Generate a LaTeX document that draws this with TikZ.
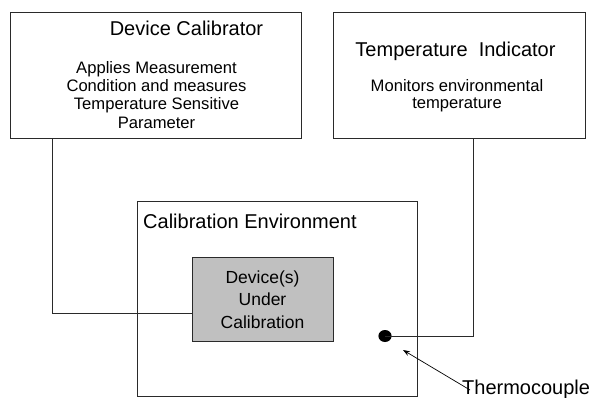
\documentclass[tikz,border=0pt]{standalone}
\usepackage{fontspec}
\setmainfont{Liberation Sans}
\usetikzlibrary{arrows.meta}
\definecolor{lineclr}{HTML}{2A2A2A}
\definecolor{ducgray}{HTML}{C0C0C0}
\tikzset{
  boxstyle/.style={draw=lineclr, line width=0.9pt},
  wire/.style={draw=lineclr, line width=0.9pt},
  titletext/.style={anchor=base, inner sep=0pt, font=\fontsize{20}{22}\selectfont},
  bodytext/.style={anchor=base, inner sep=0pt, font=\fontsize{16.6}{18}\selectfont},
  ductext/.style={anchor=base, inner sep=0pt, font=\fontsize{17.5}{20}\selectfont},
}
\begin{document}
\begin{tikzpicture}[x=1pt, y=-1pt]
\useasboundingbox (0,0) rectangle (603,397);
% boxes
\draw[boxstyle] (10,12) rectangle (301,138);
\draw[boxstyle] (333,12) rectangle (585,138);
\draw[boxstyle] (137,201) rectangle (417,396);
\node[boxstyle, fill=ducgray, minimum width=141pt, minimum height=84pt, inner sep=0pt] (duc) at (262.5,299) {};
% Device calibrator text
\node[titletext] (calT) at (186.5,35.5) {Device Calibrator};
\node[bodytext] (calB1) at (156.5,73) {Applies Measurement};
\node[bodytext] (calB2) at (156.5,91.3) {Condition and measures};
\node[bodytext] (calB3) at (156.5,109.6) {Temperature Sensitive};
\node[bodytext] (calB4) at (156.5,128) {Parameter};
% Temperature indicator text
\node[titletext] (tiT) at (455.5,56) {Temperature\ \ Indicator};
\node[bodytext] (tiB1) at (457,91) {Monitors environmental};
\node[bodytext] (tiB2) at (457,108.5) {temperature};
% Environment
\node[titletext, anchor=base west] (envT) at (143,228) {Calibration Environment};
% DUC text
\node[ductext] (duc1) at (262.5,283) {Device(s)};
\node[ductext] (duc2) at (262.5,305.5) {Under};
\node[ductext] (duc3) at (262.5,328) {Calibration};
% thermocouple
\node[circle, fill=black, minimum width=12pt, minimum height=12pt, inner sep=0pt, xscale=1.1] (tc) at (385,336) {};
\node[titletext, anchor=base west] (tcT) at (462,394.5) {Thermocouple};
% wires
\coordinate (calOut) at (52,138);
\coordinate (tiOut) at (473,138);
\draw[wire] (calOut) |- (duc.west |- 0,313);
\draw[wire] (tc.center) -| (tiOut);
\coordinate (arrS) at (470,390);
\coordinate (arrE) at (403,350);
\draw[line width=0.7pt, -{Stealth[length=7pt, width=5pt]}] (arrS) -- (arrE);
\end{tikzpicture}
\end{document}
